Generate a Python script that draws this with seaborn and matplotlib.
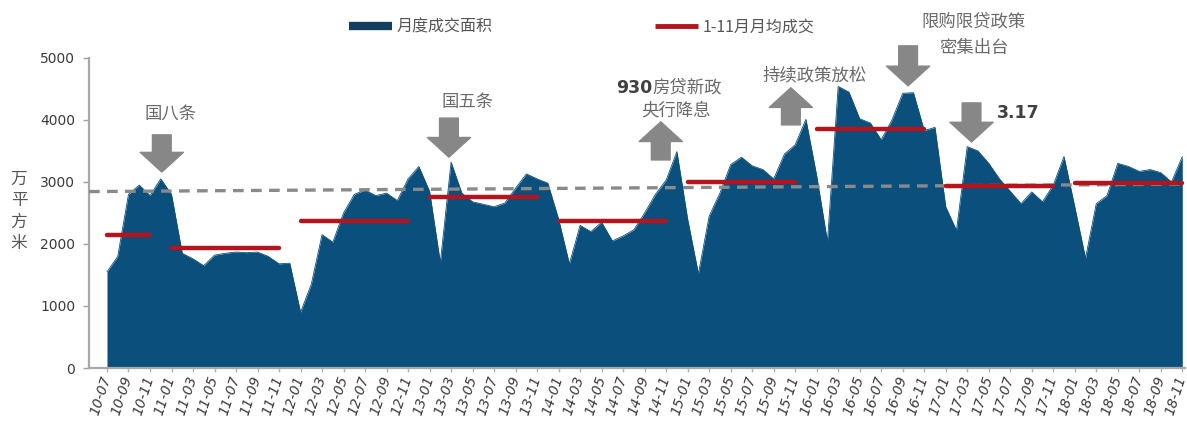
import numpy as np
import pandas as pd
import matplotlib
matplotlib.use("Agg")
import matplotlib.pyplot as plt
from matplotlib.lines import Line2D
import seaborn as sns

# Monthly transaction area (10k m²), 2010-07 .. 2018-11
months = pd.period_range("2010-07", "2018-11", freq="M").strftime("%y-%m").tolist()
monthly_area = [
    1550, 1800, 2800, 2950, 2780, 3050, 2800, 1850, 1760, 1650,
    1820, 1850, 1870, 1860, 1870, 1800, 1680, 1690, 900, 1350,
    2150, 2030, 2500, 2800, 2870, 2780, 2820, 2700, 3050, 3250,
    2850, 1700, 3320, 2820, 2680, 2640, 2600, 2660, 2900, 3130,
    3050, 2980, 2400, 1680, 2300, 2200, 2350, 2050, 2130, 2230,
    2500, 2800, 3030, 3490, 2400, 1520, 2450, 2820, 3280, 3400,
    3260, 3200, 3050, 3450, 3600, 4010, 3100, 2040, 4540, 4450,
    4020, 3950, 3680, 4000, 4430, 4440, 3830, 3880, 2600, 2220,
    3570, 3500, 3300, 3050, 2850, 2650, 2840, 2680, 2950, 3410,
    2600, 1770, 2650, 2780, 3300, 3250, 3170, 3200, 3150, 3000,
    3410,
]

# Jan-Nov monthly average per year (2010 covers Jul-Nov)
avg_years = [2010, 2011, 2012, 2013, 2014, 2015, 2016, 2017, 2018]
avg_start = ["10-07", "11-01", "12-01", "13-01", "14-01", "15-01", "16-01", "17-01", "18-01"]
avg_end = ["10-11", "11-11", "12-11", "13-11", "14-11", "15-11", "16-11", "17-11", "18-11"]
avg_values = [2150, 1930, 2370, 2765, 2375, 3005, 3850, 2935, 2985]

# Long-run trend line, value at left and right edge of the plot
trend_ends = [2845, 2965]

tick_labels = months[::2]

AREA_COLOR = "#0b4f7c"
RED = "#b5141d"
GRAY_TXT = "#6a6a6a"

sns.set_theme(style="white")
plt.rcParams["font.family"] = ["Noto Sans CJK SC", "DejaVu Sans"]

fig = plt.figure(figsize=(11.87, 4.23), dpi=100)
ax = fig.add_axes([0.075, 0.130, 0.9233, 0.733])

pos = np.arange(len(months))
df = pd.DataFrame({"pos": pos, "area": monthly_area})

ax.fill_between(df["pos"], 0, df["area"], color=AREA_COLOR, linewidth=0, zorder=2)
sns.lineplot(data=df, x="pos", y="area", color=AREA_COLOR, linewidth=0.6, ax=ax, zorder=2)

xmin, xmax = -1.67, 100.25

# dashed trend
trend_df = pd.DataFrame({"pos": [xmin, xmax], "val": trend_ends})
sns.lineplot(data=trend_df, x="pos", y="val", color="#8a8a8a", linewidth=2.4,
             linestyle=(0, (3.2, 2.2)), ax=ax, zorder=3)

# yearly average segments
idx = {m: i for i, m in enumerate(months)}
rows = []
for yr, s, e, v in zip(avg_years, avg_start, avg_end, avg_values):
    rows.append({"year": yr, "pos": idx[s], "avg": v})
    rows.append({"year": yr, "pos": idx[e], "avg": v})
avg_df = pd.DataFrame(rows)
sns.lineplot(data=avg_df, x="pos", y="avg", units="year", estimator=None,
             color=RED, linewidth=3.2, ax=ax, zorder=4)

ax.set_xlim(xmin, xmax)
ax.set_ylim(0, 5000)
ax.set_xlabel("")
ax.set_ylabel("")
ax.set_yticks([0, 1000, 2000, 3000, 4000, 5000])
ax.set_yticklabels(["0", "1000", "2000", "3000", "4000", "5000"],
                   fontsize=10, color="#3a3a3a", family="DejaVu Sans")
ax.set_xticks(pos[::2])
ax.set_xticklabels(tick_labels, rotation=72, ha="right", va="center",
                   rotation_mode="anchor", fontsize=10, color="#3a3a3a",
                   style="italic", family="DejaVu Sans")
ax.tick_params(axis="y", length=4, width=1, color="#a0a0a0", pad=6, left=True)
ax.tick_params(axis="x", length=3, width=1, color="#b0b0b0", pad=3, bottom=True)
for side in ["top", "right"]:
    ax.spines[side].set_visible(False)
for side in ["left", "bottom"]:
    ax.spines[side].set_color("#a8a8a8")
    ax.spines[side].set_linewidth(1.6)
ax.grid(False)

# vertical unit label
fig.text(0.016, 0.50, "万\n平\n方\n米", fontsize=12, color="#555555",
         ha="center", va="center", linespacing=1.35)

# legend
handles = [Line2D([0], [0], color="#123f5e", linewidth=6, solid_capstyle="butt"),
           Line2D([0], [0], color=RED, linewidth=3.5, solid_capstyle="butt")]
fig.legend(handles, ["月度成交面积", "1-11月月均成交"], loc="center",
           bbox_to_anchor=(0.49, 0.936), ncol=2, frameon=False,
           fontsize=11.5, handlelength=2.7, handletextpad=0.25,
           columnspacing=10.2, labelcolor="#555555")

# policy arrows
def block_arrow(x, y_tail, y_head):
    ax.annotate("", xy=(x, y_head), xytext=(x, y_tail), annotation_clip=False,
                arrowprops=dict(arrowstyle="simple,head_length=1.05,head_width=2.3,tail_width=1.0",
                                color="#878787", shrinkA=0, shrinkB=0,
                                mutation_scale=13.5), zorder=6)

block_arrow(5.1, 3760, 3160)
block_arrow(31.8, 4030, 3400)
block_arrow(51.5, 3355, 3970)
block_arrow(63.6, 3920, 4520)
block_arrow(74.5, 5195, 4550)
block_arrow(80.4, 4275, 3645)

txt = dict(ha="center", va="center", color=GRAY_TXT, fontsize=12.5, clip_on=False)
ax.text(5.95, 4100, "国八条", **txt)
ax.text(33.5, 4290, "国五条", **txt)
ax.text(50.75, 4515, "930", ha="right", va="center", color="#404040",
        fontsize=12.5, fontweight="bold", family="DejaVu Sans", clip_on=False)
ax.text(50.75, 4515, "房贷新政", ha="left", va="center", color=GRAY_TXT,
        fontsize=12.5, clip_on=False)
ax.text(52.9, 4160, "央行降息", **txt)
ax.text(65.8, 4725, "持续政策放松", **txt)
ax.text(80.6, 5580, "限购限贷政策", **txt)
ax.text(80.6, 5160, "密集出台", **txt)
ax.text(84.7, 4115, "3.17", ha="center", va="center", color="#404040",
        fontsize=12.5, fontweight="bold", family="DejaVu Sans", clip_on=False)

fig.savefig("out.png", dpi=100, facecolor="white")
